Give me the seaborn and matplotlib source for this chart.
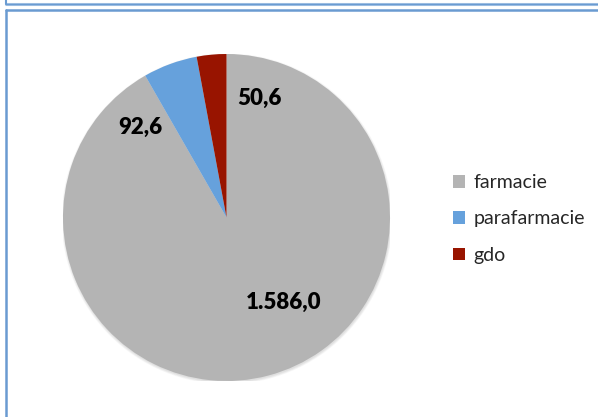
import matplotlib
matplotlib.use("Agg")
import matplotlib.pyplot as plt
import seaborn as sns
from matplotlib.patches import Rectangle, Circle
from matplotlib.lines import Line2D

# Sales by channel (values as printed on the slices)
channels = ["farmacie", "parafarmacie", "gdo"]
values = [1586.0, 92.6, 50.6]
value_labels = ["1.586,0", "92,6", "50,6"]
colors = ["#B4B4B4", "#66A1DC", "#981400"]

# label anchor offsets (fraction of radius) for each value
label_offsets = [(0.35, -0.52), (-0.53, 0.55), (0.20, 0.73)]

sns.set_theme(style="white")
plt.rcParams["font.family"] = ["Lato", "DejaVu Sans"]

W, H, DPI = 598, 417, 100
fig = plt.figure(figsize=(W / DPI, H / DPI), dpi=DPI)
fig.patch.set_facecolor("white")

frame_color = "#6A9BD1"
# upper (neighbouring) chart frame
fig.add_artist(Line2D([6 / W, 1.0], [1 - 3.5 / H, 1 - 3.5 / H], color="#9DBEE2", lw=2.2, transform=fig.transFigure))
fig.add_artist(Line2D([6 / W, 1.0], [1 - 3.5 / H, 1 - 3.5 / H], color="#6A9BD1", lw=0.8, transform=fig.transFigure))
fig.add_artist(Line2D([6 / W, 6 / W], [1.0, 1 - 4 / H], color=frame_color, lw=1.5, transform=fig.transFigure))
# chart frame
fig.add_artist(Line2D([6 / W, 6 / W], [0.0, 1 - 10 / H], color=frame_color, lw=1.8, transform=fig.transFigure))
fig.add_artist(Line2D([6 / W, 1.0], [1 - 10 / H, 1 - 10 / H], color=frame_color, lw=1.8, transform=fig.transFigure))

# pie axes: centre (226, 217) px, radius 163 px
cx, cy, r = 226.5, 217.5, 163.5
ax = fig.add_axes([(cx - r) / W, 1 - (cy + r) / H, 2 * r / W, 2 * r / H])

# soft drop shadow under the pie
for i in range(4):
    ax.add_patch(Circle((0.003, -0.008), 1.0 + 0.004 * i, color="black", alpha=0.03, lw=0, zorder=0))

wedges, _ = ax.pie(values, colors=colors, startangle=90, counterclock=False, radius=1.0,
                   wedgeprops=dict(linewidth=0))
for w in wedges:
    w.set_zorder(2)

ax.set_xlim(-1, 1)
ax.set_ylim(-1, 1)
ax.axis("off")

for (dx, dy), txt in zip(label_offsets, value_labels):
    ax.text(dx, dy, txt, ha="center", va="center", fontsize=16, fontweight="heavy", color="black", zorder=3)

handles = [Rectangle((0, 0), 1, 1, facecolor=c, edgecolor="none") for c in colors]
fig.legend(handles, channels, loc="center left", bbox_to_anchor=(453 / W, 1 - 219 / H),
           frameon=False, fontsize=14, handlelength=0.62, handleheight=0.62,
           handletextpad=0.45, labelspacing=1.0, borderaxespad=0, borderpad=0)

fig.savefig("out.png", dpi=DPI, facecolor="white")
